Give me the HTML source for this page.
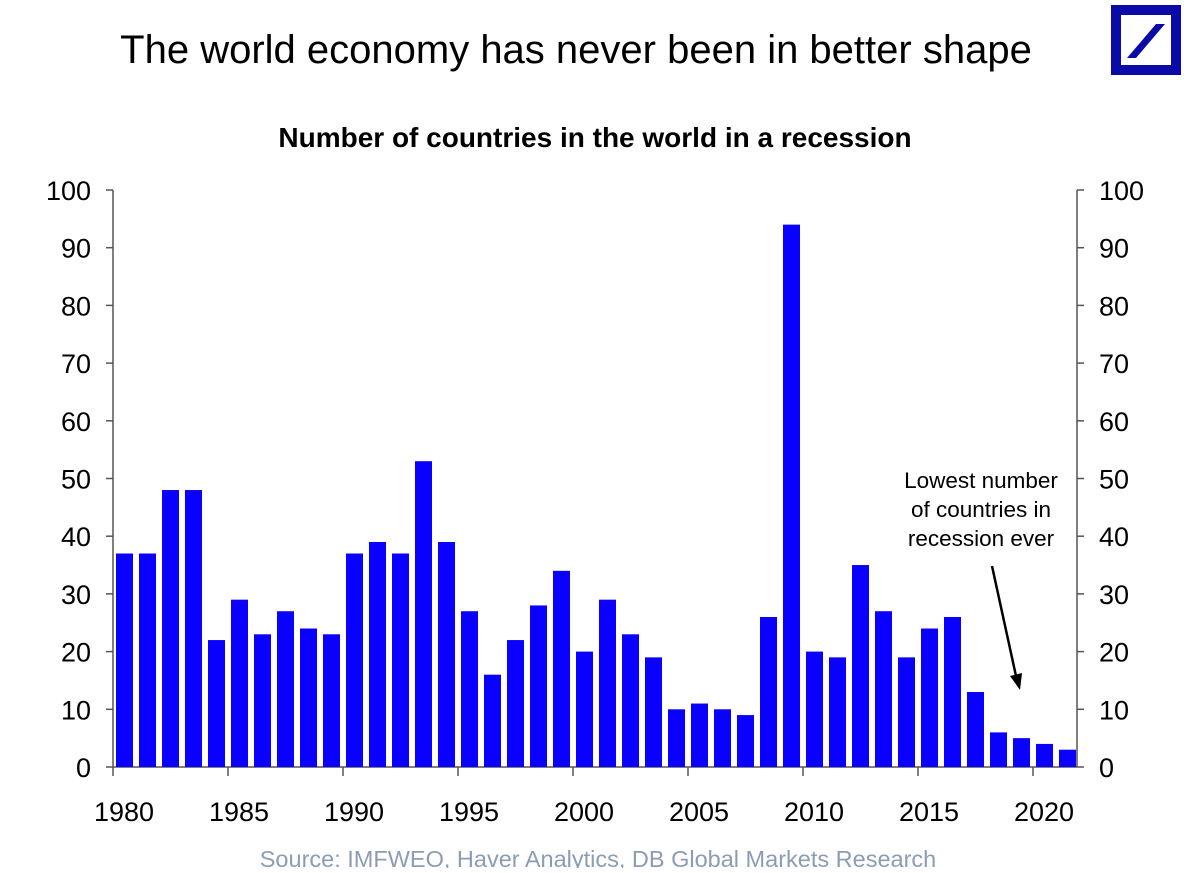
<!DOCTYPE html>
<html><head><meta charset="utf-8"><style>
body{margin:0;background:#fff;width:1196px;height:868px;overflow:hidden;font-family:"Liberation Sans",sans-serif}
</style></head><body>
<svg width="1196" height="868">
<text x="576" y="63" font-size="40" text-anchor="middle" fill="#000">The world economy has never been in better shape</text>
<g>
<rect x="1116" y="10" width="60" height="60" fill="none" stroke="#0a0aa8" stroke-width="10"/>
<polygon points="1127,58 1136,58 1165,24 1156,24" fill="#0a0aa8"/>
</g>
<text x="595" y="147" font-size="28" font-weight="bold" text-anchor="middle">Number of countries in the world in a recession</text>
<g id="axes"></g>
<g id="bars"></g>
<g>
<text x="981" y="488" font-size="22.5" text-anchor="middle">Lowest number</text>
<text x="981" y="517" font-size="22.5" text-anchor="middle">of countries in</text>
<text x="981" y="546" font-size="22.5" text-anchor="middle">recession ever</text>
<line x1="992" y1="566" x2="1016" y2="676" stroke="#000" stroke-width="2.5"/>
<polygon points="1020,690 1010,676 1022,673" fill="#000"/>
</g>
<text x="598" y="867" font-size="23.5" text-anchor="middle" fill="#8c9db3">Source: IMFWEO, Haver Analytics, DB Global Markets Research</text>
</svg>
<script>
const years=[1980,1981,1982,1983,1984,1985,1986,1987,1988,1989,1990,1991,1992,1993,1994,1995,1996,1997,1998,1999,2000,2001,2002,2003,2004,2005,2006,2007,2008,2009,2010,2011,2012,2013,2014,2015,2016,2017,2018,2019,2020,2021];
const values=[37,37,48,48,22,29,23,27,24,23,37,39,37,53,39,27,16,22,28,34,20,29,23,19,10,11,10,9,26,94,20,19,35,27,19,24,26,13,6,5,4,3];
const yTicks=[0,10,20,30,40,50,60,70,80,90,100];
const xTickLabels=[1980,1985,1990,1995,2000,2005,2010,2015,2020];
const NS="http://www.w3.org/2000/svg";
const L=113,R=1077,Y0=767,Y100=190,STEP=23;
const y=v=>Y0-(v/100)*(Y0-Y100);
const x=yr=>L+(yr-1980)*STEP;
function mk(t,a,p){const e=document.createElementNS(NS,t);for(const k in a)e.setAttribute(k,a[k]);p.appendChild(e);return e;}
const ax=document.getElementById('axes');
const bars=document.getElementById('bars');
years.forEach((yr,i)=>{
 const r=mk('rect',{x:x(yr)+3,y:y(values[i]),width:17,height:Y0-y(values[i]),fill:'#0a00ff'},bars);
 
 
});
mk('line',{x1:L,y1:Y0,x2:R,y2:Y0,stroke:'#555','stroke-width':1.5},ax);
mk('line',{x1:L,y1:Y100,x2:L,y2:Y0,stroke:'#555','stroke-width':1.5},ax);
mk('line',{x1:R,y1:Y100,x2:R,y2:Y0,stroke:'#555','stroke-width':1.5},ax);
yTicks.forEach(v=>{
 mk('line',{x1:L-7,y1:y(v),x2:L,y2:y(v),stroke:'#555','stroke-width':1.5},ax);
 mk('line',{x1:R,y1:y(v),x2:R+7,y2:y(v),stroke:'#555','stroke-width':1.5},ax);
 const t1=mk('text',{x:L-22,y:y(v)+10,'font-size':27,'text-anchor':'end'},ax);t1.textContent=v;
 
 
 const t2=mk('text',{x:R+22,y:y(v)+10,'font-size':27,'text-anchor':'start'},ax);t2.textContent=v;
 
 
});
xTickLabels.forEach(yr=>{
 mk('line',{x1:x(yr),y1:Y0,x2:x(yr),y2:Y0+9,stroke:'#555','stroke-width':1.5},ax);
 const t=mk('text',{x:x(yr)+11,y:821,'font-size':27,'text-anchor':'middle'},ax);t.textContent=yr;
 
 
});
</script>
</body></html>
